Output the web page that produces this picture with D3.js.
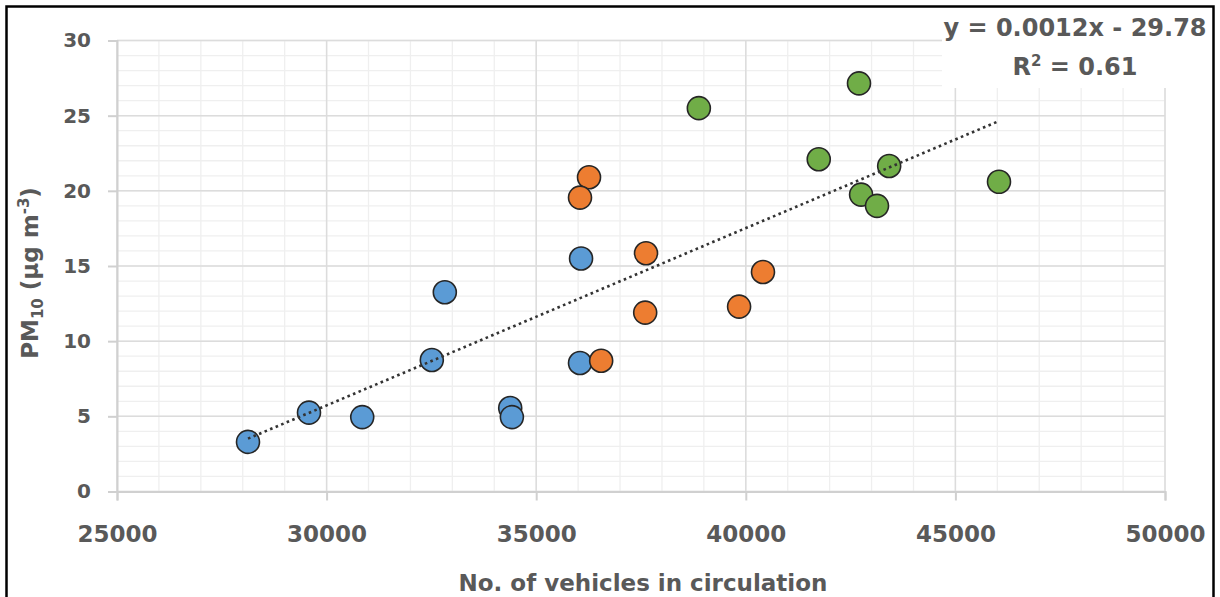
<!DOCTYPE html>
<html>
<head>
<meta charset="utf-8">
<script src="https://cdn.jsdelivr.net/npm/d3@7"></script>
<style>
  html, body { margin: 0; padding: 0; background: #fff; }
  svg { display: block; }
  text { font-family: "DejaVu Sans", sans-serif; font-weight: bold; fill: #595959; }
</style>
</head>
<body>
<svg id="chart" width="1220" height="597"></svg>
<script>
// ---- data ----
const blueX   = [28125, 29580, 30850, 32510, 32820, 34380, 34420, 36045, 36070];
const blueY   = [3.3, 5.25, 4.95, 8.75, 13.25, 5.55, 4.95, 8.55, 15.5];
const orangeX = [36260, 36045, 37620, 37600, 39840, 40410, 36550];
const orangeY = [20.9, 19.55, 15.85, 11.9, 12.3, 14.6, 8.7];
const greenX  = [38880, 42700, 41740, 42750, 43130, 43420, 46040];
const greenY  = [25.5, 27.15, 22.1, 19.75, 19.0, 21.65, 20.6];
const xTicks = [25000, 30000, 35000, 40000, 45000, 50000];
const yTicks = [0, 5, 10, 15, 20, 25, 30];
const eqText = "y = 0.0012x - 29.78";
const r2Label = "0.61";
const xTitle = "No. of vehicles in circulation";

const seriesColors = ["#5B9BD5", "#ED7D31", "#70AD47"];

(function () {
const svg = d3.select("#chart");
const pLeft = 117, pRight = 1165, pTop = 40.5, pBottom = 491.5;

const x = d3.scaleLinear().domain([25000, 50000]).range([pLeft, pRight]);
const y = d3.scaleLinear().domain([0, 30]).range([pBottom, pTop]);

// minor grid
const g = svg.append("g");
g.append("g").selectAll("line").data(d3.range(25000, 50001, 1000)).join("line")
  .attr("x1", d => x(d)).attr("x2", d => x(d)).attr("y1", pTop).attr("y2", pBottom)
  .attr("stroke", "#efefef").attr("stroke-width", 1.3);
g.append("g").selectAll("line").data(d3.range(0, 31, 1)).join("line")
  .attr("x1", pLeft).attr("x2", pRight).attr("y1", d => y(d)).attr("y2", d => y(d))
  .attr("stroke", "#efefef").attr("stroke-width", 1.3);
// major grid
g.append("g").selectAll("line").data(xTicks).join("line")
  .attr("x1", d => x(d)).attr("x2", d => x(d)).attr("y1", pTop).attr("y2", pBottom)
  .attr("stroke", "#dcdcdc").attr("stroke-width", 1.5);
g.append("g").selectAll("line").data(yTicks).join("line")
  .attr("x1", pLeft).attr("x2", pRight).attr("y1", d => y(d)).attr("y2", d => y(d))
  .attr("stroke", "#dcdcdc").attr("stroke-width", 1.5);

// axes
const xAxis = svg.append("g").attr("transform", `translate(0,${pBottom})`)
  .call(d3.axisBottom(x).tickValues(xTicks).tickSize(9).tickPadding(25).tickFormat(d3.format("d")));
xAxis.select(".domain").attr("stroke", "#d0d0d0").attr("stroke-width", 2);
xAxis.selectAll(".tick line").attr("stroke", "#d0d0d0").attr("stroke-width", 2);
xAxis.selectAll(".tick text").attr("font-size", 23).attr("fill", "#595959")
  .style("font-family", "DejaVu Sans").style("font-weight", "bold");

const yAxis = svg.append("g").attr("transform", `translate(${pLeft},0)`)
  .call(d3.axisLeft(y).tickValues(yTicks).tickSize(9).tickPadding(17));
yAxis.select(".domain").attr("stroke", "#d0d0d0").attr("stroke-width", 2);
yAxis.selectAll(".tick line").attr("stroke", "#d0d0d0").attr("stroke-width", 2);
yAxis.selectAll(".tick text").attr("font-size", 20).attr("fill", "#595959")
  .style("font-family", "DejaVu Sans").style("font-weight", "bold");

// white label box covering grid
svg.append("rect").attr("x", 942).attr("y", 8).attr("width", 271).attr("height", 80).attr("fill", "#fff");

// points
const series = [
  {xs: blueX, ys: blueY, c: seriesColors[0]},
  {xs: orangeX, ys: orangeY, c: seriesColors[1]},
  {xs: greenX, ys: greenY, c: seriesColors[2]}
];
series.forEach(s => {
  const pts = s.xs.map((v, i) => [v, s.ys[i]]);
  svg.append("g").selectAll("circle").data(pts).join("circle")
    .attr("cx", d => x(d[0])).attr("cy", d => y(d[1])).attr("r", 11.5)
    .attr("fill", s.c).attr("stroke", "#262626").attr("stroke-width", 1.6);
});

// trendline (least squares over all points)
const allX = blueX.concat(orangeX, greenX), allY = blueY.concat(orangeY, greenY);
const mx = d3.mean(allX), my = d3.mean(allY);
const slope = d3.sum(allX.map((v, i) => (v - mx) * (allY[i] - my))) / d3.sum(allX.map(v => (v - mx) ** 2));
const icpt = my - slope * mx;
const x0 = d3.min(allX), x1 = d3.max(allX);
svg.append("line")
  .attr("x1", x(x0)).attr("y1", y(slope * x0 + icpt))
  .attr("x2", x(x1)).attr("y2", y(slope * x1 + icpt))
  .attr("stroke", "#333").attr("stroke-width", 2.6).attr("stroke-dasharray", "2.6,3.4");

// equation labels
svg.append("text").attr("x", 1075).attr("y", 36).attr("text-anchor", "middle")
  .attr("font-size", 24).text(eqText);
const r2 = svg.append("text").attr("x", 1075).attr("y", 75).attr("text-anchor", "middle").attr("font-size", 24);
r2.append("tspan").text("R");
r2.append("tspan").attr("font-size", 15).attr("dy", -9).text("2");
r2.append("tspan").attr("dy", 9).text(" = " + r2Label);

// axis titles
svg.append("text").attr("x", 643).attr("y", 591).attr("text-anchor", "middle")
  .attr("font-size", 23).text(xTitle);
const yt = svg.append("text").attr("transform", "translate(38,273) rotate(-90)")
  .attr("text-anchor", "middle").attr("font-size", 23);
yt.append("tspan").text("PM");
yt.append("tspan").attr("font-size", 15).attr("dy", 5).text("10");
yt.append("tspan").attr("dy", -5).text(" (µg m");
yt.append("tspan").attr("font-size", 15).attr("dy", -9).text("-3");
yt.append("tspan").attr("dy", 9).text(")");

// outer border
svg.append("rect").attr("x", 6.5).attr("y", 6.5).attr("width", 1207).attr("height", 640)
  .attr("fill", "none").attr("stroke", "#000").attr("stroke-width", 2.5);
})();
</script>
</body>
</html>
